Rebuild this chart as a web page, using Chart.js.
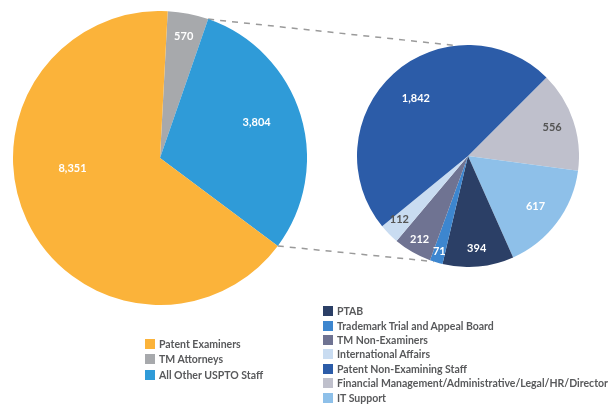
<!DOCTYPE html>
<html>
<head>
<meta charset="utf-8">
<script src="https://cdn.jsdelivr.net/npm/chart.js@4"></script>
<style>
  body { margin: 0; width: 611px; height: 406px; background: #fff; position: relative; overflow: hidden; font-family: Lato, "Open Sans", sans-serif; }
  canvas { position: absolute; }
  .legend { position: absolute; font-size: 10.5px; font-weight: bold; color: #58595b; white-space: nowrap; }
  .legend div { height: 15.5px; display: flex; align-items: center; }
  #detailLegend div { height: 14.4px; }
  .legend span.sw { display: inline-block; width: 10px; height: 10px; margin-right: 4px; }
</style>
</head>
<body>
<canvas id="lines" width="611" height="406" style="left:0;top:0"></canvas>
<canvas id="mainPie" width="294" height="294" style="left:13px;top:11px"></canvas>
<canvas id="detailPie" width="222" height="222" style="left:357px;top:45px"></canvas>
<div class="legend" id="mainLegend" style="left:145px;top:336px"></div>
<div class="legend" id="detailLegend" style="left:323px;top:304px"></div>

<script>
// overall staff
const mainLabels = ['TM Attorneys', 'All Other USPTO Staff', 'Patent Examiners'];
const mainValues = [570, 3804, 8351];
const mainColors = ['#a7a9ac', '#2f9bd8', '#fbb33a'];
const mainLegendOrder = [2, 0, 1];

// breakdown of "All Other USPTO Staff"
const detailLabels = [
    'Financial Management/Administrative/Legal/HR/Director',
    'IT Support',
    'PTAB',
    'Trademark Trial and Appeal Board',
    'TM Non-Examiners',
    'International Affairs',
    'Patent Non-Examining Staff'
];
const detailValues = [556, 617, 394, 71, 212, 112, 1842];
const detailColors = ['#bfc0cc', '#8ec0e9', '#2b3f66', '#3d86cf', '#6f7392', '#c9dcf1', '#2c5ca8'];
const detailLegendOrder = [2, 3, 4, 5, 6, 0, 1];

// label placement: fraction of radius, angle shift in degrees, text colour
const mainLabelStyle = [[0.84, 0, '#fff'], [0.7, -3, '#fff'], [0.6, 18, '#fff']];
const detailLabelStyle = [[0.8, 0, '#555'], [0.76, 0, '#fff'], [0.84, 0, '#fff'], [0.9, 0, '#fff'],
    [0.87, 0, '#fff'], [0.84, 2, '#555'], [0.7, 0, '#fff']];

const fmt = v => v.toLocaleString('en-US');

function sliceLabels(styles) {
    return {
        id: 'sliceLabels',
        afterDatasetsDraw(chart) {
            const ctx = chart.ctx;
            const meta = chart.getDatasetMeta(0);
            const values = chart.data.datasets[0].data;
            ctx.save();
            ctx.font = 'bold 11px Lato, sans-serif';
            ctx.textAlign = 'center';
            ctx.textBaseline = 'middle';
            meta.data.forEach((arc, i) => {
                const [frac, shift, color] = styles[i];
                const mid = (arc.startAngle + arc.endAngle) / 2 + shift * Math.PI / 180;
                const r = arc.outerRadius * frac;
                ctx.fillStyle = color;
                ctx.fillText(fmt(values[i]), arc.x + Math.cos(mid) * r, arc.y + Math.sin(mid) * r);
            });
            ctx.restore();
        }
    };
}

function pieConfig(labels, values, colors, rotation, styles, extraPlugins) {
    return {
        type: 'pie',
        data: {
            labels: labels,
            datasets: [{ data: values, backgroundColor: colors, borderWidth: 0 }]
        },
        options: {
            responsive: false,
            animation: false,
            rotation: rotation,
            layout: { padding: 0 },
            plugins: { legend: { display: false }, tooltip: { enabled: false } }
        },
        plugins: [sliceLabels(styles)].concat(extraPlugins || [])
    };
}

const mainCanvas = document.getElementById('mainPie');
const detailCanvas = document.getElementById('detailPie');
const mainChart = new Chart(mainCanvas, pieConfig(mainLabels, mainValues, mainColors, 3, mainLabelStyle));

// dashed connectors from the blue slice to the detail pie
const connectors = {
    id: 'connectors',
    afterDraw(chart) {
        const ctx = document.getElementById('lines').getContext('2d');
        const big = mainChart.getDatasetMeta(0).data[1];
        const small = chart.getDatasetMeta(0).data[0];
        const bx = mainCanvas.offsetLeft, by = mainCanvas.offsetTop;
        const sx = detailCanvas.offsetLeft, sy = detailCanvas.offsetTop;
        const pt = (x0, y0, arc, ang) => [x0 + arc.x + Math.cos(ang) * arc.outerRadius, y0 + arc.y + Math.sin(ang) * arc.outerRadius];
        const deg = d => (d - 90) * Math.PI / 180;
        const pairs = [
            [pt(bx, by, big, big.startAngle), pt(sx, sy, small, deg(-6))],
            [pt(bx, by, big, big.endAngle), pt(sx, sy, small, deg(198))]
        ];
        ctx.clearRect(0, 0, 611, 406);
        ctx.strokeStyle = '#9a9a9a';
        ctx.lineWidth = 1.5;
        ctx.setLineDash([6, 6]);
        pairs.forEach(([a, b]) => {
            ctx.beginPath();
            ctx.moveTo(a[0], a[1]);
            ctx.lineTo(b[0], b[1]);
            ctx.stroke();
        });
    }
};

new Chart(detailCanvas, pieConfig(detailLabels, detailValues, detailColors, 45, detailLabelStyle, [connectors]));

function buildLegend(id, order, labels, colors) {
    const box = document.getElementById(id);
    order.forEach(i => {
        const row = document.createElement('div');
        const sw = document.createElement('span');
        sw.className = 'sw';
        sw.style.background = colors[i];
        row.appendChild(sw);
        row.appendChild(document.createTextNode(labels[i]));
        box.appendChild(row);
    });
}

buildLegend('mainLegend', mainLegendOrder, mainLabels, mainColors);
buildLegend('detailLegend', detailLegendOrder, detailLabels, detailColors);
</script>
</body>
</html>
